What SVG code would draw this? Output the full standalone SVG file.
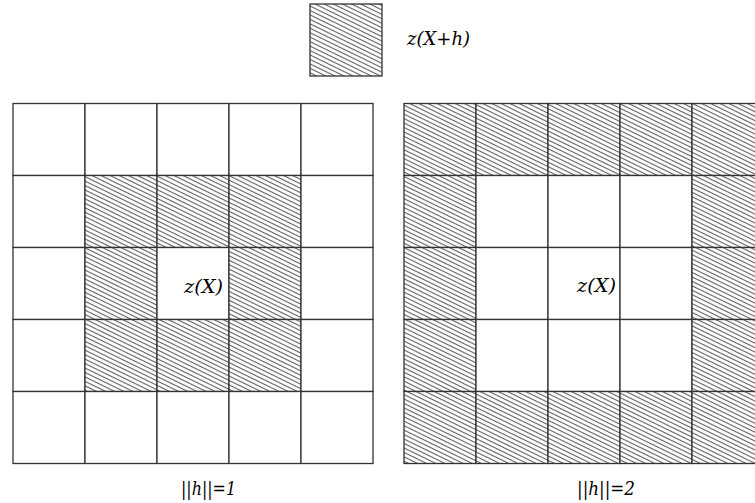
<svg xmlns="http://www.w3.org/2000/svg" width="755" height="503" viewBox="0 0 755 503">
<defs>
<pattern id="hatch" patternUnits="userSpaceOnUse" width="8" height="4" patternTransform="rotate(26)">
<rect width="8" height="4" fill="#fff"/>
<line x1="0" y1="1.5" x2="8" y2="1.5" stroke="#606060" stroke-width="1.1"/>
</pattern>
</defs>
<style>
.cell{stroke:#333;stroke-width:1.3;fill:#fff}
.sh{stroke:#333;stroke-width:1.3;fill:url(#hatch)}
.t{font-family:"DejaVu Serif","Liberation Serif",serif;font-style:italic;font-size:19px;fill:#000}
</style>
<rect width="755" height="503" fill="#fff"/>
<g id="legend">
<rect class="sh" x="310" y="4" width="72" height="72"/>
<text class="t" x="407" y="45" textLength="63" lengthAdjust="spacingAndGlyphs">z(X+h)</text>
</g>
<g id="grid1">
<rect class="cell" x="13" y="103.5" width="72" height="72"/>
<rect class="cell" x="85" y="103.5" width="72" height="72"/>
<rect class="cell" x="157" y="103.5" width="72" height="72"/>
<rect class="cell" x="229" y="103.5" width="72" height="72"/>
<rect class="cell" x="301" y="103.5" width="72" height="72"/>
<rect class="cell" x="13" y="175.5" width="72" height="72"/>
<rect class="sh" x="85" y="175.5" width="72" height="72"/>
<rect class="sh" x="157" y="175.5" width="72" height="72"/>
<rect class="sh" x="229" y="175.5" width="72" height="72"/>
<rect class="cell" x="301" y="175.5" width="72" height="72"/>
<rect class="cell" x="13" y="247.5" width="72" height="72"/>
<rect class="sh" x="85" y="247.5" width="72" height="72"/>
<rect class="cell" x="157" y="247.5" width="72" height="72"/>
<rect class="sh" x="229" y="247.5" width="72" height="72"/>
<rect class="cell" x="301" y="247.5" width="72" height="72"/>
<rect class="cell" x="13" y="319.5" width="72" height="72"/>
<rect class="sh" x="85" y="319.5" width="72" height="72"/>
<rect class="sh" x="157" y="319.5" width="72" height="72"/>
<rect class="sh" x="229" y="319.5" width="72" height="72"/>
<rect class="cell" x="301" y="319.5" width="72" height="72"/>
<rect class="cell" x="13" y="391.5" width="72" height="72"/>
<rect class="cell" x="85" y="391.5" width="72" height="72"/>
<rect class="cell" x="157" y="391.5" width="72" height="72"/>
<rect class="cell" x="229" y="391.5" width="72" height="72"/>
<rect class="cell" x="301" y="391.5" width="72" height="72"/>
<text class="t" x="184" y="293" textLength="39" lengthAdjust="spacingAndGlyphs">z(X)</text>
<text class="t" x="181" y="495" textLength="55" lengthAdjust="spacingAndGlyphs">||h||=1</text>
</g>
<g id="grid2">
<rect class="sh" x="404" y="103.5" width="72" height="72"/>
<rect class="sh" x="476" y="103.5" width="72" height="72"/>
<rect class="sh" x="548" y="103.5" width="72" height="72"/>
<rect class="sh" x="620" y="103.5" width="72" height="72"/>
<rect class="sh" x="692" y="103.5" width="72" height="72"/>
<rect class="sh" x="404" y="175.5" width="72" height="72"/>
<rect class="cell" x="476" y="175.5" width="72" height="72"/>
<rect class="cell" x="548" y="175.5" width="72" height="72"/>
<rect class="cell" x="620" y="175.5" width="72" height="72"/>
<rect class="sh" x="692" y="175.5" width="72" height="72"/>
<rect class="sh" x="404" y="247.5" width="72" height="72"/>
<rect class="cell" x="476" y="247.5" width="72" height="72"/>
<rect class="cell" x="548" y="247.5" width="72" height="72"/>
<rect class="cell" x="620" y="247.5" width="72" height="72"/>
<rect class="sh" x="692" y="247.5" width="72" height="72"/>
<rect class="sh" x="404" y="319.5" width="72" height="72"/>
<rect class="cell" x="476" y="319.5" width="72" height="72"/>
<rect class="cell" x="548" y="319.5" width="72" height="72"/>
<rect class="cell" x="620" y="319.5" width="72" height="72"/>
<rect class="sh" x="692" y="319.5" width="72" height="72"/>
<rect class="sh" x="404" y="391.5" width="72" height="72"/>
<rect class="sh" x="476" y="391.5" width="72" height="72"/>
<rect class="sh" x="548" y="391.5" width="72" height="72"/>
<rect class="sh" x="620" y="391.5" width="72" height="72"/>
<rect class="sh" x="692" y="391.5" width="72" height="72"/>
<text class="t" x="577" y="292" textLength="39" lengthAdjust="spacingAndGlyphs">z(X)</text>
<text class="t" x="577" y="495" textLength="58" lengthAdjust="spacingAndGlyphs">||h||=2</text>
</g>
</svg>
